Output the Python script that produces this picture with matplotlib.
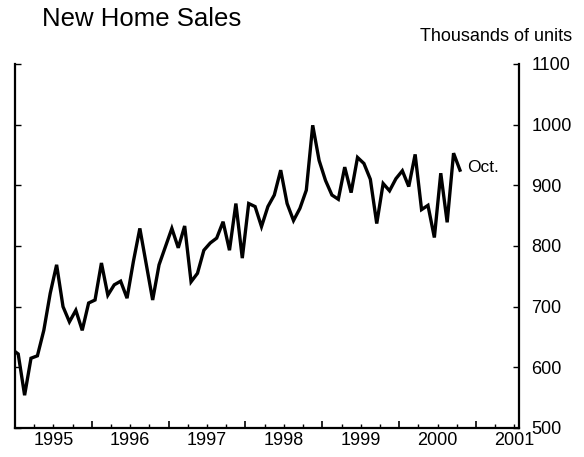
import matplotlib
matplotlib.use("Agg")
import matplotlib.pyplot as plt
from matplotlib.ticker import FixedLocator, FuncFormatter
import numpy as np

plt.rcParams['font.family'] = ['Liberation Sans', 'DejaVu Sans']

# monthly new home sales, thousands of units (Dec 1994 - Oct 2000)
start_year, start_month = 1994, 12
sales = [630,
         622, 554, 615, 619, 661, 722, 769, 700, 675, 694, 661, 706,   # 1995
         711, 772, 719, 736, 742, 714, 775, 829, 770, 711, 769, 799,   # 1996
         829, 797, 833, 741, 755, 793, 805, 813, 840, 793, 870, 780,   # 1997
         870, 865, 832, 865, 884, 925, 870, 842, 862, 892, 999, 941,   # 1998
         908, 884, 877, 930, 888, 946, 936, 910, 837, 903, 891, 911,   # 1999
         924, 898, 951, 860, 867, 814, 920, 839, 953, 925]             # 2000
years = [1995, 1996, 1997, 1998, 1999, 2000, 2001]
y_ticks = [500, 600, 700, 800, 900, 1000, 1100]

# mid-month positions in decimal years
idx = np.arange(len(sales))
x = start_year + (start_month - 1 + idx + 0.5) / 12

fig = plt.figure(figsize=(5.84, 4.57), dpi=100)
ax = fig.add_axes([15 / 584, 29 / 457, 504 / 584, 364 / 457])

ax.plot(x, sales, color='black', linewidth=2.4, solid_joinstyle='miter')
ax.annotate('Oct.', xy=(x[-1], sales[-1]), xytext=(5, 2), textcoords='offset points',
            ha='left', va='center', fontsize=12.5)

ax.set_xlim(1995.0, 2001.56)
ax.set_ylim(500, 1100)

for s in ['left', 'right', 'bottom']:
    ax.spines[s].set_linewidth(1.6)
ax.spines['top'].set_visible(False)

# year boundaries as tall ticks, quarters as short ticks, labels mid-year
ax.xaxis.set_major_locator(FixedLocator(years))
ax.xaxis.set_major_formatter(FuncFormatter(lambda v, p: ''))
quarters = [yr + q for yr in range(1995, 2002) for q in (0.25, 0.5, 0.75)]
ax.xaxis.set_minor_locator(FixedLocator(quarters))
ax.xaxis.set_minor_formatter(FuncFormatter(
    lambda v, p: str(int(v)) if abs(v % 1 - 0.5) < 0.01 else ''))
ax.tick_params(axis='x', which='major', direction='in', length=5, width=1.2, labelsize=13)
ax.tick_params(axis='x', which='minor', direction='in', length=3, width=1.0,
               labelsize=13, pad=3)

ax.set_yticks(y_ticks)
ax.yaxis.tick_right()
ax.tick_params(axis='y', which='major', direction='in', length=4, width=1.0,
               left=True, right=True, labelleft=False, labelright=True,
               labelsize=13, pad=9)

fig.text(42 / 584, 1 - 26 / 457, 'New Home Sales', fontsize=18.5, ha='left', va='baseline')
fig.text(572 / 584, 1 - 41 / 457, 'Thousands of units', fontsize=13, ha='right', va='baseline')

fig.savefig('out.png', dpi=100)
